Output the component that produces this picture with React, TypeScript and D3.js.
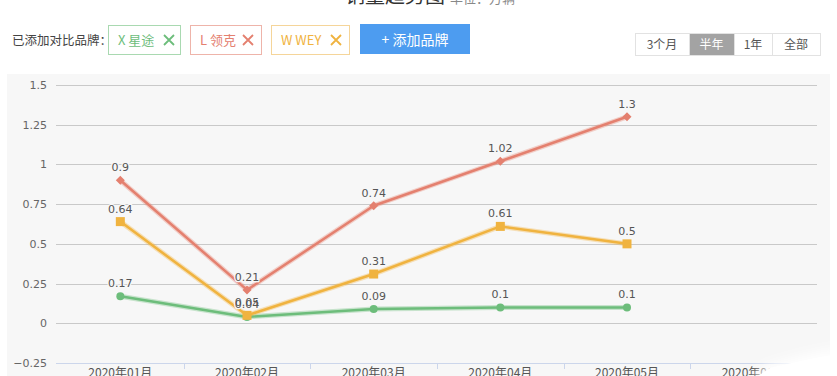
import React from "react";
import * as d3 from "d3";

const categories = ["2020年01月", "2020年02月", "2020年03月", "2020年04月", "2020年05月", "2020年06月"];
const xingtu = [0.17, 0.04, 0.09, 0.1, 0.1];
const lingke = [0.9, 0.21, 0.74, 1.02, 1.3];
const wey = [0.64, 0.05, 0.31, 0.61, 0.5];
const yTicks = [-0.25, 0, 0.25, 0.5, 0.75, 1, 1.25, 1.5];
const periods = ["3个月", "半年", "1年", "全部"];

const GREEN = "#6dbd7b";
const RED = "#e4806f";
const ORANGE = "#f0b33f";

const CJK = "'Noto Sans CJK SC', 'Noto Sans', sans-serif";
const NUM = "'DejaVu Sans', sans-serif";

export default function App() {
  const W = 837, H = 376;
  const x = d3.scaleBand<string>().domain(categories).range([57, 817]);
  const y = d3.scaleLinear().domain([-0.25, 1.5]).range([363, 85]);
  const cx = (i: number) => (x(categories[i]) as number) + x.bandwidth() / 2;
  const line = d3.line<number>().x((_, i) => cx(i)).y((v) => y(v));

  const series = [
    { name: "星途", data: xingtu, color: GREEN, symbol: "circle" },
    { name: "领克", data: lingke, color: RED, symbol: "diamond" },
    { name: "WEY", data: wey, color: ORANGE, symbol: "square" },
  ];

  const marker = (sym: string, px: number, py: number, color: string, k: string) => {
    if (sym === "circle") return <circle key={k} cx={px} cy={py} r={4} fill={color} />;
    if (sym === "diamond")
      return <path key={k} d={`M${px},${py - 4.5}L${px + 4.5},${py}L${px},${py + 4.5}L${px - 4.5},${py}Z`} fill={color} />;
    return <rect key={k} x={px - 4.5} y={py - 4.5} width={9} height={9} fill={color} />;
  };

  const tags = [
    { label: "X 星途", x0: 108, x1: 180, color: GREEN, border: "#a9d9b1", cross: 169 },
    { label: "L 领克", x0: 190, x1: 261, color: RED, border: "#eeb4aa", cross: 248 },
    { label: "W WEY", x0: 271, x1: 349, color: ORANGE, border: "#f5d59a", cross: 336 },
  ];

  const pBounds = [635, 689, 734, 772, 820];

  return (
    <svg width={W} height={H} style={{ position: "absolute", left: 0, top: 0, background: "#fff" }}>
      <defs>
        <filter id="soft" x="-10%" y="-10%" width="120%" height="120%">
          <feGaussianBlur stdDeviation="0.5" />
        </filter>
        <filter id="blur8" x="-50%" y="-50%" width="200%" height="200%">
          <feGaussianBlur stdDeviation="6" />
        </filter>
      </defs>

      {/* Title (clipped at top) */}
      <text x={345} y={3} fontFamily={CJK} fontSize={20} fill="#333">销量趋势图</text>
      <text x={450} y={3} fontFamily={CJK} fontSize={13} fill="#888">单位：万辆</text>

      {/* Brand row */}
      <text x={12} y={45} fontFamily={CJK} fontSize={12.5} fill="#444">已添加对比品牌：</text>
      {tags.map((t) => (
        <g key={t.label}>
          <rect x={t.x0 + 0.5} y={25.5} width={t.x1 - t.x0} height={29} fill="#fff" stroke={t.border} />
          <text x={t.x0 + 10} y={45} fontFamily={CJK} fontSize={13} fill={t.color}>{t.label}</text>
          <path d={`M${t.cross - 5},${35} L${t.cross + 5},${45} M${t.cross + 5},${35} L${t.cross - 5},${45}`}
            stroke={t.color} strokeWidth={1.8} />
        </g>
      ))}
      <rect x={360} y={24} width={110} height={30} fill="#4d9cf0" />
      <text x={415} y={44.5} textAnchor="middle" fontFamily={CJK} fontSize={14} fill="#fff">+ 添加品牌</text>

      {/* Period selector */}
      <rect x={635.5} y={33.5} width={185} height={22} fill="#fff" stroke="#e2e2e2" />
      <rect x={689} y={34} width={45} height={21} fill="#a3a3a3" />
      {pBounds.slice(1, -1).map((b) => (
        <line key={b} x1={b + 0.5} x2={b + 0.5} y1={34} y2={55} stroke="#e2e2e2" />
      ))}
      {periods.map((p, i) => (
        <text key={p} x={(pBounds[i] + pBounds[i + 1]) / 2} y={49} textAnchor="middle" fontFamily={CJK}
          fontSize={12} fill={i === 1 ? "#fff" : "#555"}>{p}</text>
      ))}

      {/* Chart panel */}
      <rect x={7} y={74} width={823} height={H - 74} fill="#f7f7f7" />

      {/* Grid and y labels */}
      {yTicks.map((t) => (
        <g key={t}>
          <line x1={56} x2={817} y1={Math.round(y(t)) + 0.5} y2={Math.round(y(t)) + 0.5}
            stroke={t === -0.25 ? "#ccd6eb" : "#c9c9c9"} strokeWidth={1} />
          <text x={47} y={y(t) + 4} textAnchor="end" fontFamily={NUM} fontSize={11} fill="#666">
            {t === -0.25 ? "−0.25" : String(t)}
          </text>
        </g>
      ))}

      {/* X ticks and labels */}
      {categories.map((c, i) => (
        <g key={c}>
          <line x1={Math.round((x(c) as number) + x.bandwidth()) + 0.5} x2={Math.round((x(c) as number) + x.bandwidth()) + 0.5}
            y1={363} y2={369} stroke="#ccd6eb" />
          <text x={cx(i)} y={377} textAnchor="middle" fontFamily={CJK} fontSize={12} fill="#555">{c}</text>
        </g>
      ))}

      {/* Series */}
      {series.map((s) => (
        <g key={s.name}>
          <path d={line(s.data) as string} fill="none" stroke={s.color} strokeOpacity={0.35} strokeWidth={5} filter="url(#soft)" />
          <path d={line(s.data) as string} fill="none" stroke={s.color} strokeWidth={2.5} strokeLinejoin="round" />
          {s.data.map((v, i) => marker(s.symbol, cx(i), y(v), s.color, s.name + i))}
        </g>
      ))}

      {/* Data labels */}
      {series.map((s) =>
        s.data.map((v, i) => (
          <text key={s.name + "l" + i} x={cx(i)} y={y(v) - 9} textAnchor="middle" fontFamily={NUM}
            fontSize={11} fill="#555" stroke="#f7f7f7" strokeWidth={s.name === "WEY" && i === 1 ? 0 : 2.5}
            paintOrder="stroke">{String(v)}</text>
        ))
      )}

      {/* White blur in bottom right corner */}
      <path d="M752,380 L765,366 L800,356 L837,348 L837,380 Z" fill="#fff" filter="url(#blur8)" />
      <path d="M758,376 L770,368 L805,360 L837,354 L837,376 Z" fill="#fff" />
      <rect x={831} y={74} width={6} height={H - 74} fill="#fff" />
    </svg>
  );
}
